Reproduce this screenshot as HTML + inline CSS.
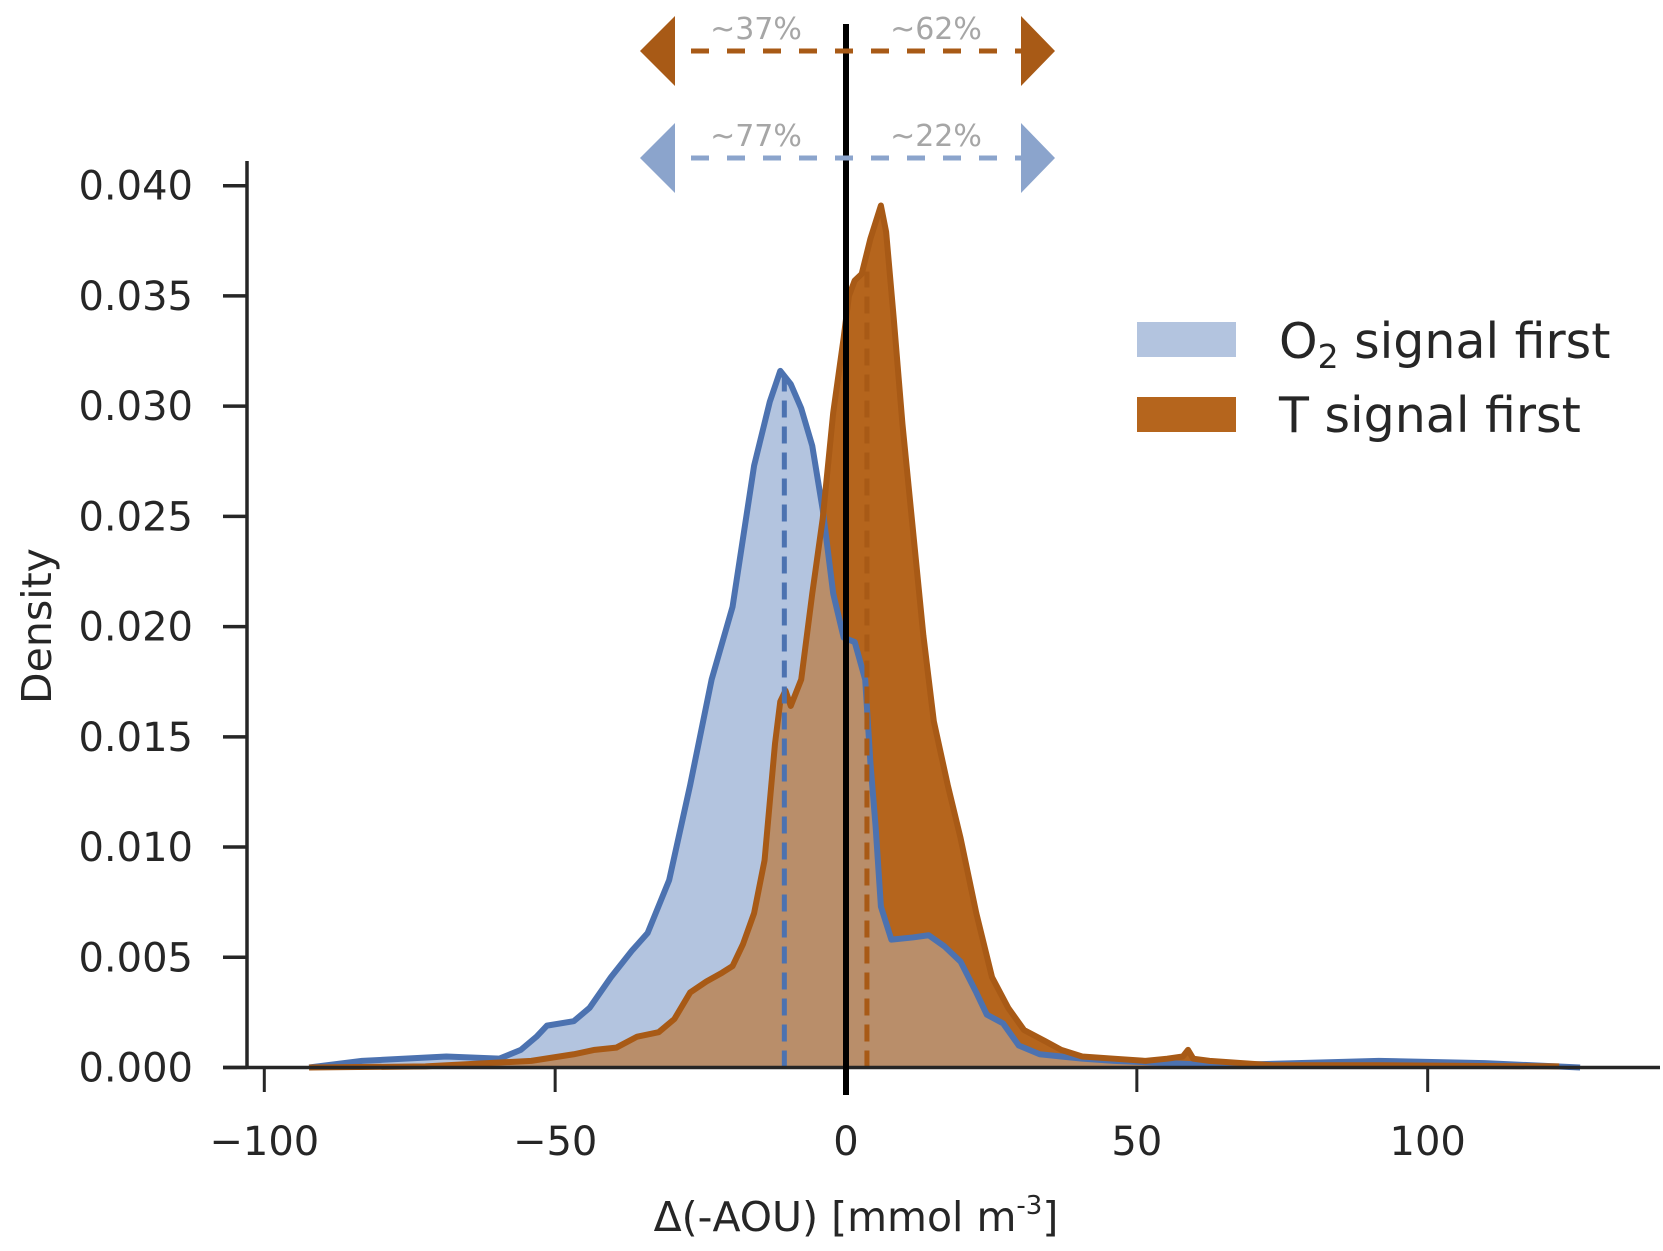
<!DOCTYPE html>
<html><head><meta charset="utf-8"><style>body{margin:0;background:#fff}svg{display:block}</style></head>
<body>
<svg id="chart" width="1663" height="1251" viewBox="0 0 1663 1251" xmlns="http://www.w3.org/2000/svg" font-family="DejaVu Sans, Liberation Sans, sans-serif">
<g id="plot"></g>
</svg>
<script>
const xTicks=[-100,-50,0,50,100];
const yTicks=[0,0.005,0.010,0.015,0.020,0.025,0.030,0.035,0.040];
const yTickLabels=["0.000","0.005","0.010","0.015","0.020","0.025","0.030","0.035","0.040"];
const blueX=[-92.3,-83.2,-68.7,-59.6,-55.9,-53.2,-51.4,-46.8,-44.1,-40.4,-36.8,-34.1,-30.4,-26.8,-23.1,-19.5,-15.8,-13.1,-11.3,-9.5,-7.7,-5.8,-4.0,-2.2,-0.4,1.5,3.3,4.2,5.1,6.0,7.8,11.5,14.2,16.9,19.7,22.4,24.2,27.0,29.7,33.3,37.0,40.6,46.1,55.2,64.3,91.6,109.8,126.2];
const blueY=[0,0.0003,0.0005,0.0004,0.0008,0.0014,0.0019,0.0021,0.0027,0.0041,0.0053,0.0061,0.0085,0.0128,0.0176,0.0209,0.0273,0.0302,0.0316,0.0310,0.0299,0.0282,0.0253,0.0215,0.0195,0.0193,0.0176,0.0138,0.0109,0.0073,0.0058,0.0059,0.0060,0.0055,0.0048,0.0034,0.0024,0.0020,0.0010,0.0006,0.0005,0.0004,0.0003,0.0002,0.0001,0.0003,0.0002,0];
const orangeX=[-92.3,-72.3,-54.1,-46.8,-43.2,-39.5,-35.9,-32.2,-29.5,-26.8,-24.0,-21.3,-19.5,-17.7,-15.8,-14.0,-12.2,-11.3,-10.4,-9.5,-7.7,-5.8,-4.0,-2.2,-0.4,0.5,1.5,2.7,4.2,6.0,6.9,8.2,9.7,11.5,13.3,15.1,17.5,19.7,22.4,25.1,27.9,30.6,34.2,37.0,40.6,46.1,51.5,55.2,57.9,58.8,59.7,62.5,73.4,91.6,122.6];
const orangeY=[0,0.00005,0.0003,0.0006,0.0008,0.0009,0.0014,0.0016,0.0022,0.0034,0.0039,0.0043,0.0046,0.0056,0.0070,0.0094,0.0147,0.0166,0.0171,0.0164,0.0176,0.0215,0.0249,0.0297,0.0331,0.0350,0.0357,0.0360,0.0376,0.0391,0.0379,0.0340,0.0292,0.0244,0.0196,0.0157,0.0128,0.0104,0.0070,0.0041,0.0027,0.0017,0.0012,0.0008,0.0005,0.0004,0.0003,0.0004,0.0005,0.0008,0.0004,0.0003,0.0001,0.0001,0.00005];
const meanBlue=-10.6, meanOrange=3.6;
const pctLabels=["~37%","~62%","~77%","~22%"];

const X=v=>846+5.817*v;
const Y=v=>1067.5-22045*v;
const NS="http://www.w3.org/2000/svg";
const g=document.getElementById('plot');
function mk(t,a,p){const e=document.createElementNS(NS,t);for(const k in a)e.setAttribute(k,a[k]);(p||g).appendChild(e);return e;}
function interp(xs,ys,x){if(x<=xs[0]||x>=xs[xs.length-1])return 0;for(let i=1;i<xs.length;i++){if(x<=xs[i]){const t=(x-xs[i-1])/(xs[i]-xs[i-1]);return ys[i-1]+t*(ys[i]-ys[i-1]);}}return 0;}
function areaPath(xs,ys){let d='M'+X(xs[0])+','+Y(0);xs.forEach((x,i)=>d+=' L'+X(x)+','+Y(ys[i]));d+=' L'+X(xs[xs.length-1])+','+Y(0)+' Z';return d;}
function linePath(xs,ys){return xs.map((x,i)=>(i?'L':'M')+X(x)+','+Y(ys[i])).join(' ');}

let e;
e=mk('path',{d:areaPath(blueX,blueY),fill:'#b3c4df'});


e=mk('path',{d:areaPath(orangeX,orangeY),fill:'#b5651d'});


const allX=[...new Set([...blueX,...orangeX])].sort((a,b)=>a-b);
const minY=allX.map(x=>Math.min(interp(blueX,blueY,x),interp(orangeX,orangeY,x)));
e=mk('path',{d:areaPath(allX,minY),fill:'#b98e6a'});


e=mk('path',{d:linePath(blueX,blueY),fill:'none',stroke:'#4c72b0','stroke-width':6,'stroke-linejoin':'round'});


e=mk('path',{d:linePath(orangeX,orangeY),fill:'none',stroke:'#a85a16','stroke-width':6,'stroke-linejoin':'round'});


e=mk('line',{x1:X(meanBlue),x2:X(meanBlue),y1:Y(0),y2:Y(interp(blueX,blueY,meanBlue)),stroke:'#4c72b0','stroke-width':5,'stroke-dasharray':'17,9'});


e=mk('line',{x1:X(meanOrange),x2:X(meanOrange),y1:Y(0),y2:Y(0.0361),stroke:'#a85a16','stroke-width':5,'stroke-dasharray':'17,9'});



e=mk('line',{x1:247,x2:247,y1:161,y2:1067.5,stroke:'#262626','stroke-width':3.5});


e=mk('line',{x1:223,x2:1660,y1:1067.5,y2:1067.5,stroke:'#262626','stroke-width':3.5});


yTicks.forEach((v,i)=>{
 let t=mk('line',{x1:223,x2:247,y1:Y(v),y2:Y(v),stroke:'#262626','stroke-width':3.5});
 
 
 let l=mk('text',{x:193,y:Y(v)+14,'text-anchor':'end','font-size':40,fill:'#262626'});
 l.textContent=yTickLabels[i];
 
 
});
xTicks.forEach(v=>{
 let t=mk('line',{x1:X(v),x2:X(v),y1:1067.5,y2:1092,stroke:'#262626','stroke-width':3});
 
 
 let l=mk('text',{x:X(v),y:1155,'text-anchor':'middle','font-size':40,fill:'#262626'});
 l.textContent=(v<0?'\u2212':'')+Math.abs(v);
 
 
});
e=mk('line',{x1:X(0),x2:X(0),y1:24,y2:1095,stroke:'#000','stroke-width':6});



function arrow(y,col,name,l1,l2){
 let a=mk('line',{x1:655,x2:1038,y1:y,y2:y,stroke:col,'stroke-width':5,'stroke-dasharray':'18,18'});
 
 
 a=mk('polygon',{points:`640,${y} 675,${y-35} 675,${y+35}`,fill:col});
 
 
 a=mk('polygon',{points:`1055,${y} 1021,${y-35} 1021,${y+35}`,fill:col});
 
 
 let t=mk('text',{x:756,y:y-12,'text-anchor':'middle','font-size':30,fill:'#a6a6a6'});t.textContent=l1;
 
 
 t=mk('text',{x:936,y:y-12,'text-anchor':'middle','font-size':30,fill:'#a6a6a6'});t.textContent=l2;
 
 
}
arrow(51,'#a85a16','t',pctLabels[0],pctLabels[1]);
arrow(158,'#8ba4cc','o2',pctLabels[2],pctLabels[3]);

e=mk('rect',{x:1137,y:322,width:99,height:35,fill:'#b3c4df'});


e=mk('rect',{x:1137,y:397,width:99,height:35,fill:'#b5651d'});


e=mk('text',{x:1279,y:358,'font-size':49,fill:'#262626'});
e.innerHTML='O<tspan font-size="33" dy="10">2</tspan><tspan dy="-10"> signal first</tspan>';


e=mk('text',{x:1279,y:432,'font-size':49,fill:'#262626'});
e.textContent='T signal first';



e=mk('text',{x:0,y:0,'font-size':41,fill:'#262626','text-anchor':'middle',transform:'translate(51,626) rotate(-90)'});
e.textContent='Density';


e=mk('text',{x:856,y:1231,'font-size':41,fill:'#262626','text-anchor':'middle'});
e.innerHTML='\u0394(-AOU) [mmol m<tspan font-size="26" dy="-17">-3</tspan><tspan dy="17">]</tspan>';


</script>
</body></html>
